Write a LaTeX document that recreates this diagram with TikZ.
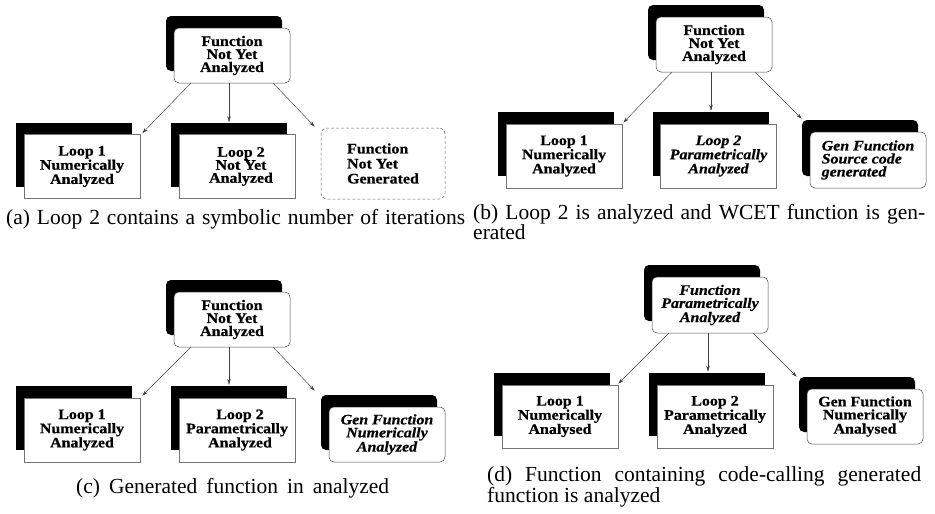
\documentclass[tikz,border=0pt]{standalone}
\usepackage{fontspec}
\newfontfamily\boxfont{Liberation Serif}[FakeStretch=1.1, BoldFeatures={FakeBold=0.6}, BoldItalicFeatures={FakeBold=0.6}]
\newfontfamily\capfont{Liberation Serif}
\usetikzlibrary{shadows,arrows.meta,calc}
\tikzset{
  loopbox/.style={draw=black!55, line width=0.5pt, fill=white,
    minimum width=116pt, minimum height=64pt, inner sep=0pt, align=center,
    font=\boxfont\bfseries\fontsize{14.5}{13}\selectfont,
    general shadow={fill=black, shadow xshift=-8pt, shadow yshift=12pt}},
  topbox/.style={loopbox, draw=black!70, rounded corners=5pt, minimum height=55pt},
  dashbox/.style={draw=black!60, line width=0.5pt, dash pattern=on 3pt off 2pt,
    rounded corners=6pt, minimum width=124pt, minimum height=71pt, inner sep=0pt,
    align=left, font=\boxfont\bfseries\fontsize{14.5}{15}\selectfont},
  conn/.style={draw=black!75, line width=0.45pt, -{Stealth[length=6pt,width=3.5pt]}},
  captext/.style={inner sep=0pt, anchor=base west, font=\capfont\fontsize{21.5}{21}\selectfont}
}
\begin{document}
\begin{tikzpicture}[x=1pt,y=-1pt]
\useasboundingbox[fill=white] (0,0) rectangle (935,514);

% ---------- (a)
\node[topbox] (topA) at (232,55.5) {Function\\Not Yet\\Analyzed};
\node[loopbox] (l1A) at (82,166.5) {Loop 1\\Numerically\\Analyzed};
\node[loopbox] (l2A) at (237,166.5) {\hspace*{8pt}Loop 2\\\hspace*{8pt}Not Yet\\\hspace*{8pt}Analyzed};
\node[dashbox] (fnA) at (383,163.5) {Function\\Not Yet\\Generated};
\draw[conn] ([xshift=17pt]topA.south west) -- ([xshift=2pt,yshift=1pt]l1A.north east);
\draw[conn] ([xshift=-3pt]topA.south) -- ([xshift=-8pt,yshift=12pt]l2A.north);
\draw[conn] ([xshift=-17pt]topA.south east) -- ([xshift=-6pt,yshift=1pt]fnA.north west);
\node[captext] (capA) at (6,224) {\makebox[459pt][s]{(a) Loop 2 contains a symbolic number of iterations}};

% ---------- (b)
\node[topbox] (topB) at (714,44.5) {Function\\Not Yet\\Analyzed};
\node[loopbox] (l1B) at (564,156) {Loop 1\\Numerically\\Analyzed};
\node[loopbox] (l2B) at (718.5,156) {\itshape Loop 2\\\itshape Parametrically\\\itshape Analyzed};
\node[topbox, minimum height=56pt, align=left] (gfB) at (868,160) {\itshape Gen Function\\\itshape Source code\\\itshape generated};
\draw[conn] ([xshift=16pt]topB.south west) -- ([xshift=1pt,yshift=1pt]l1B.north east);
\draw[conn] ([xshift=-3pt]topB.south) -- ([xshift=-7.5pt,yshift=13pt]l2B.north);
\draw[conn] ([xshift=-17pt]topB.south east) -- ([xshift=-8pt,yshift=13pt]gfB.north west);
\node[captext] (capB1) at (473,219) {\makebox[452pt][s]{(b) Loop 2 is analyzed and WCET function is gen-}};
\node[captext] (capB2) at (473,239) {erated};

% ---------- (c)
\node[topbox] (topC) at (232,319.5) {Function\\Not Yet\\Analyzed};
\node[loopbox] (l1C) at (82,430) {Loop 1\\Numerically\\Analyzed};
\node[loopbox] (l2C) at (237,430) {\hspace*{6pt}Loop 2\\Parametrically\\\hspace*{6pt}Analyzed};
\node[topbox] (gfC) at (387,434.5) {\itshape Gen Function\\\itshape Numerically\\\itshape Analyzed};
\draw[conn] ([xshift=17pt]topC.south west) -- ([xshift=2pt,yshift=2pt]l1C.north east);
\draw[conn] ([xshift=-3pt]topC.south) -- ([xshift=-8pt,yshift=13pt]l2C.north);
\draw[conn] ([xshift=-17pt]topC.south east) -- ([xshift=-14pt,yshift=16pt]gfC.north west);
\node[captext] (capC) at (76,493) {\makebox[313pt][s]{(c) Generated function in analyzed}};

% ---------- (d)
\node[topbox, minimum height=56pt] (topD) at (710,305) {\itshape Function\\\itshape Parametrically\\\itshape Analyzed};
\node[loopbox, minimum height=63pt] (l1D) at (560,416.5) {Loop 1\\Numerically\\Analysed};
\node[loopbox, minimum height=63pt] (l2D) at (715,416.5) {Loop 2\\Parametrically\\Analyzed};
\node[topbox] (gfD) at (865,416.5) {Gen Function\\Numerically\\Analysed};
\draw[conn] ([xshift=17pt]topD.south west) -- ([yshift=1pt]l1D.north east);
\draw[conn] ([xshift=-2pt]topD.south) -- ([xshift=-7pt,yshift=13pt]l2D.north);
\draw[conn] ([xshift=-15pt]topD.south east) -- ([xshift=-10pt,yshift=12pt]gfD.north west);
\node[captext] (capD1) at (487,481) {\makebox[434pt][s]{(d) Function containing code-calling generated}};
\node[captext] (capD2) at (487,502) {function is analyzed};
\end{tikzpicture}
\end{document}
